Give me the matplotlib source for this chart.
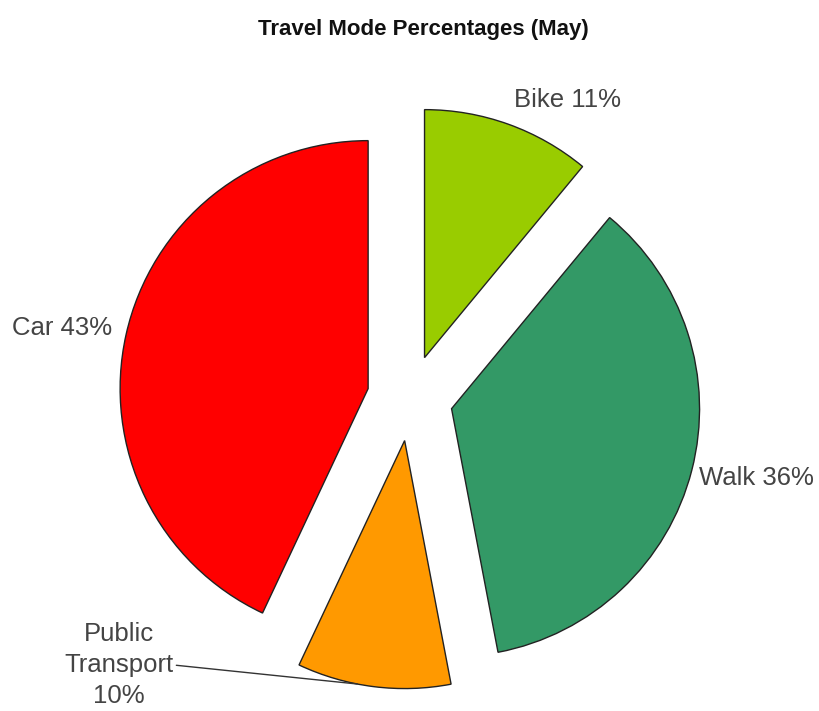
import numpy as np
import matplotlib
matplotlib.use("Agg")
import matplotlib.pyplot as plt

labels = ["Bike", "Walk", "Public Transport", "Car"]
values = [11, 36, 10, 43]
colors = ["#99CC00", "#339966", "#FF9900", "#FF0000"]
title = "Travel Mode Percentages (May)"

W, H = 820, 711
cx, cy, R = 410, 398, 248  # pixel geometry

fig = plt.figure(figsize=(W / 100, H / 100), dpi=100)
ax = fig.add_axes([0, 0, 1, 1])

explode = [0.173] * len(values)
wedges, _ = ax.pie(values, colors=colors, startangle=90, counterclock=False,
                   explode=explode, radius=1,
                   wedgeprops=dict(edgecolor="#222222", linewidth=1.0))
ax.set_xlim(-cx / R, (W - cx) / R)
ax.set_ylim(-(H - cy) / R, cy / R)
ax.set_aspect("auto")
ax.axis("off")

def p2d(px, py):
    return ((px - cx) / R, (cy - py) / R)

fs = 18.5
tc = "#444444"
fam = ["Liberation Sans", "DejaVu Sans"]
ax.text(*p2d(514, 100), f"{labels[0]} {values[0]}%", ha="left", va="center",
        fontsize=fs, color=tc, family=fam)
ax.text(*p2d(699, 478), f"{labels[1]} {values[1]}%", ha="left", va="center",
        fontsize=fs, color=tc, family=fam)
ax.text(*p2d(112, 328), f"{labels[3]} {values[3]}%", ha="right", va="center",
        fontsize=fs, color=tc, family=fam)

# Public transport with leader line
w = wedges[2]
ang = np.deg2rad(-101)
anchor = (w.center[0] + w.r * np.cos(ang), w.center[1] + w.r * np.sin(ang))
ax.annotate("Public\nTransport\n10%", xy=anchor, xytext=p2d(119, 665),
            ha="center", va="center", fontsize=fs, color=tc, family=fam,
            linespacing=1.35,
            arrowprops=dict(arrowstyle="-", color="#333333", lw=1.0,
                            shrinkA=0, shrinkB=0, relpos=(1.0, 0.5)))

fig.text(423 / W, 1 - 30 / H, title, ha="center", va="center",
         fontsize=16, fontweight="bold", color="#111111", family=fam)

fig.savefig("out.png", dpi=100)
